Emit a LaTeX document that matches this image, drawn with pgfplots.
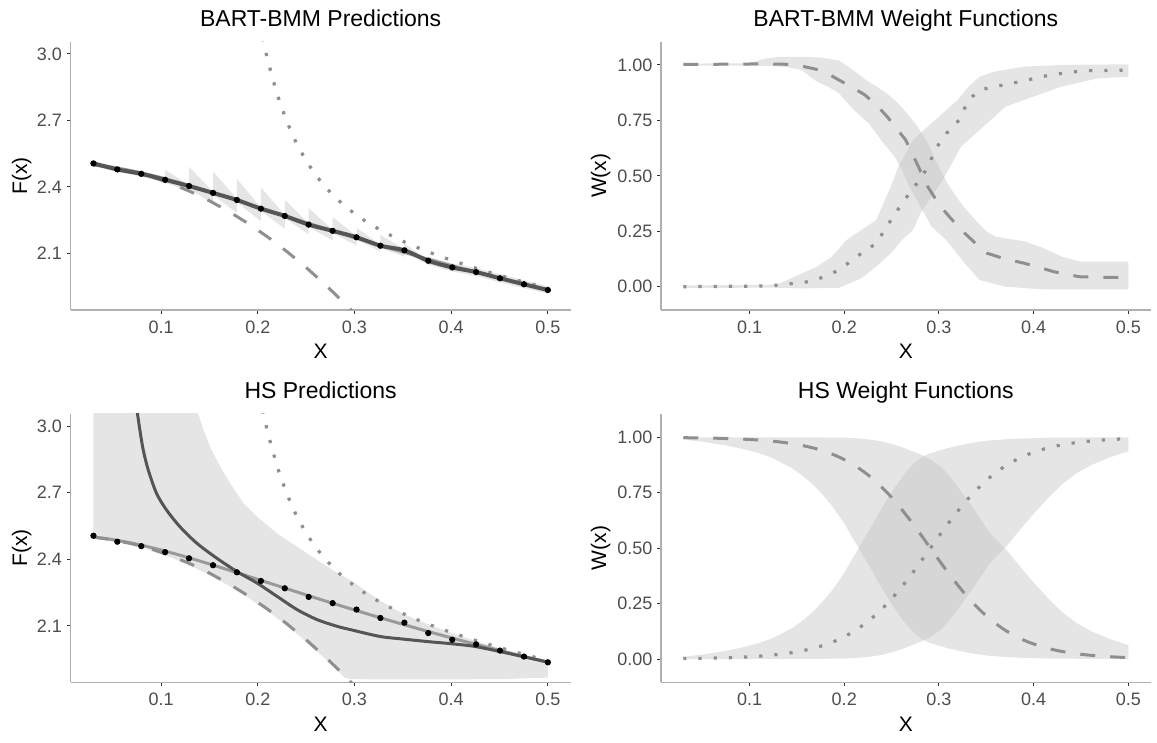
\documentclass[border=0pt]{standalone}
\usepackage{fontspec}
\setmainfont{Liberation Sans}
\usepackage{pgfplots}
\pgfplotsset{compat=1.18}
\definecolor{axgrey}{HTML}{B0B0B0}
\definecolor{tickgrey}{HTML}{333333}
\definecolor{labgrey}{HTML}{4D4D4D}
\definecolor{lgrey}{HTML}{8F8F8F}
\definecolor{truegrey}{HTML}{9A9A9A}
\definecolor{meangrey}{HTML}{555555}
\definecolor{bandc}{HTML}{BFBFBF}
\pgfplotsset{
  every axis title shift=0pt,
  panel/.style={
    scale only axis, height=134.15pt, anchor=south west,
    axis lines*=left, axis line style={axgrey, line width=0.6pt, -},
    tick pos=left, tick align=outside, major tick length=1.85pt,
    tick style={tickgrey, line width=0.5pt},
    xmin=0.0065, xmax=0.5235, xtick={0.1,0.2,0.3,0.4,0.5},
    /pgf/number format/assume math mode=true,
    tick label style={font=\fontsize{9}{10}\selectfont, text=labgrey},
    xticklabel style={/pgf/number format/fixed, /pgf/number format/precision=1, /pgf/number format/fixed zerofill, inner sep=3.3pt},
    label style={font=\fontsize{10.5}{12}\selectfont},
    xlabel={X},
    xlabel style={at={(axis description cs:0.5,-0.1826)}, anchor=base},
    title style={font=\fontsize{11.5}{13}\selectfont, at={(axis description cs:0.5,1.0567)}, anchor=base},
  },
  leftp/.style={
    width=249.95pt, ymin=1.845, ymax=3.055, ytick={2.1,2.4,2.7,3.0},
    yticklabel style={/pgf/number format/fixed, /pgf/number format/precision=1, /pgf/number format/fixed zerofill, inner sep=2.3pt},
    ylabel={F(x)},
    ylabel style={at={(axis description cs:-0.0874,0.5)}, anchor=base},
  },
  rightp/.style={
    width=244.8pt, ymin=-0.105, ymax=1.105, ytick={0,0.25,0.5,0.75,1},
    yticklabel style={/pgf/number format/fixed, /pgf/number format/precision=2, /pgf/number format/fixed zerofill, inner sep=2.3pt},
    ylabel={W(x)},
    ylabel style={at={(axis description cs:-0.1123,0.5)}, anchor=base},
  },
  dashedl/.style={lgrey, line width=1.5pt, dash pattern=on 7.5pt off 7.5pt},
  dottedl/.style={lgrey, line width=1.6pt, dash pattern=on 1.6pt off 6pt},
  band/.style={draw=none, fill=bandc, fill opacity=0.4},
}
\begin{document}
\begin{tikzpicture}
\useasboundingbox (0,0) rectangle (578.5pt,371.5pt);
% ---------------- top left
\begin{axis}[panel, leftp, at={(35.35pt,216.5pt)}, title={BART-BMM Predictions}]
\addplot[band] coordinates {
(0.0300,2.518)(0.0547,2.491)(0.0795,2.471)(0.1042,2.444)(0.1042,2.476)(0.1289,2.409)(0.1289,2.491)(0.1537,2.378)(0.1537,2.470)(0.1784,2.346)(0.1784,2.436)(0.2032,2.307)(0.2032,2.398)(0.2279,2.274)(0.2279,2.342)(0.2526,2.235)(0.2526,2.304)(0.2774,2.207)(0.2774,2.264)(0.3021,2.178)(0.3021,2.216)(0.3268,2.140)(0.3268,2.184)(0.3516,2.119)(0.3516,2.144)(0.3763,2.072)(0.3763,2.085)(0.4011,2.055)(0.4258,2.034)(0.4505,2.006)(0.4753,1.979)(0.5000,1.951)
(0.5000,1.919)(0.4753,1.943)(0.4505,1.970)(0.4258,1.998)(0.4011,2.019)(0.3763,2.049)(0.3516,2.104)(0.3516,2.085)(0.3268,2.125)(0.3268,2.109)(0.3021,2.163)(0.3021,2.136)(0.2774,2.192)(0.2774,2.158)(0.2526,2.220)(0.2526,2.186)(0.2279,2.259)(0.2279,2.211)(0.2032,2.292)(0.2032,2.245)(0.1784,2.331)(0.1784,2.283)(0.1537,2.363)(0.1537,2.321)(0.1289,2.394)(0.1289,2.378)(0.1042,2.420)(0.0795,2.447)(0.0547,2.467)(0.0300,2.494)
} -- cycle;
\addplot[truegrey, line width=1.5pt, smooth] coordinates {
(0.03,2.49996)(0.05,2.48859)(0.075,2.46788)(0.10,2.44158)(0.125,2.41134)(0.15,2.37853)(0.175,2.34422)(0.20,2.30919)(0.225,2.27402)(0.25,2.23909)(0.275,2.20475)(0.30,2.17110)(0.325,2.13829)(0.35,2.10642)(0.375,2.07551)(0.40,2.04553)(0.425,2.01656)(0.45,1.98853)(0.475,1.96144)(0.50,1.93524)};
\addplot[dashedl] coordinates {
(0.03,2.49986)(0.05,2.48783)(0.07,2.46978)(0.09,2.44572)(0.11,2.41564)(0.13,2.37954)(0.15,2.33743)(0.17,2.28930)(0.19,2.23516)(0.21,2.17500)(0.23,2.10883)(0.25,2.03664)(0.27,1.95843)(0.29,1.87421)(0.31,1.78397)};
\addplot[dottedl] coordinates {
(0.205,3.0711)(0.21,2.9752)(0.22,2.8173)(0.23,2.6942)(0.24,2.5964)(0.25,2.5175)(0.26,2.4528)(0.27,2.3988)(0.28,2.3531)(0.29,2.3139)(0.30,2.2797)(0.31,2.2495)(0.32,2.2225)(0.33,2.1980)(0.34,2.1757)(0.35,2.1551)(0.36,2.1360)(0.37,2.1180)(0.38,2.1011)(0.39,2.0851)(0.40,2.0698)(0.42,2.0410)(0.44,2.0143)(0.46,1.9892)(0.48,1.9654)(0.50,1.9427)};
\addplot[meangrey, line width=2pt, smooth] coordinates {
(0.0300,2.506)(0.0547,2.479)(0.0795,2.459)(0.1042,2.432)(0.1289,2.404)(0.1537,2.373)(0.1784,2.341)(0.2032,2.302)(0.2279,2.269)(0.2526,2.230)(0.2774,2.202)(0.3021,2.173)(0.3268,2.135)(0.3516,2.114)(0.3763,2.067)(0.4011,2.037)(0.4258,2.016)(0.4505,1.988)(0.4753,1.961)(0.5000,1.935)};
\addplot[only marks, mark=*, mark size=1.35pt, black] coordinates {
(0.0300,2.506)(0.0547,2.479)(0.0795,2.459)(0.1042,2.432)(0.1289,2.404)(0.1537,2.373)(0.1784,2.341)(0.2032,2.302)(0.2279,2.269)(0.2526,2.230)(0.2774,2.202)(0.3021,2.173)(0.3268,2.135)(0.3516,2.114)(0.3763,2.067)(0.4011,2.037)(0.4258,2.016)(0.4505,1.988)(0.4753,1.961)(0.5000,1.935)};
\end{axis}
% ---------------- top right
\begin{axis}[panel, rightp, at={(330.5pt,216.5pt)}, title={BART-BMM Weight Functions}]
\addplot[band] coordinates {
(0.030,1.006)(0.100,1.008)(0.115,1.028)(0.130,1.036)(0.160,1.037)(0.175,1.033)(0.1945,1.020)(0.210,0.975)(0.2218,0.935)(0.235,0.900)(0.2453,0.870)(0.255,0.835)(0.2648,0.789)(0.2766,0.727)(0.2882,0.650)(0.296,0.575)(0.3078,0.475)(0.3175,0.410)(0.3273,0.354)(0.340,0.294)(0.3508,0.247)(0.360,0.225)(0.390,0.205)(0.410,0.175)(0.430,0.135)(0.450,0.113)(0.500,0.113)
(0.500,-0.012)(0.4094,-0.012)(0.3703,0.000)(0.343,0.030)(0.3273,0.105)(0.3078,0.210)(0.2922,0.271)(0.2805,0.361)(0.2688,0.451)(0.2609,0.526)(0.2531,0.587)(0.2414,0.647)(0.2336,0.692)(0.2258,0.737)(0.210,0.797)(0.1945,0.872)(0.183,0.902)(0.171,0.925)(0.155,0.977)(0.140,0.990)(0.120,0.996)(0.030,0.998)
} -- cycle;
\addplot[band] coordinates {
(0.030,0.006)(0.120,0.008)(0.132,0.015)(0.155,0.060)(0.171,0.090)(0.1867,0.135)(0.2024,0.210)(0.2179,0.256)(0.2336,0.300)(0.2414,0.376)(0.2492,0.451)(0.257,0.541)(0.2648,0.600)(0.2727,0.662)(0.2843,0.707)(0.2961,0.752)(0.3078,0.797)(0.3196,0.842)(0.3312,0.902)(0.343,0.947)(0.3586,0.970)(0.3899,0.9925)(0.429,1.000)(0.500,1.003)
(0.500,0.947)(0.468,0.940)(0.429,0.902)(0.4094,0.872)(0.3899,0.842)(0.3703,0.812)(0.3508,0.737)(0.3352,0.677)(0.3234,0.632)(0.3117,0.541)(0.3039,0.481)(0.2922,0.406)(0.2805,0.331)(0.2727,0.256)(0.2609,0.210)(0.2492,0.150)(0.2336,0.090)(0.2179,0.0376)(0.1945,-0.005)(0.155,-0.0075)(0.120,-0.004)(0.030,-0.006)
} -- cycle;
\addplot[dashedl] coordinates {
(0.03,1.003)(0.06,1.003)(0.09,1.004)(0.1164,1.005)(0.14,1.003)(0.155,0.995)(0.171,0.980)(0.185,0.955)(0.1945,0.932)(0.21,0.895)(0.2218,0.865)(0.235,0.815)(0.2453,0.767)(0.255,0.715)(0.2648,0.662)(0.2766,0.557)(0.2882,0.451)(0.298,0.385)(0.3078,0.331)(0.3175,0.285)(0.3273,0.241)(0.34,0.19)(0.3508,0.151)(0.37,0.125)(0.3899,0.106)(0.405,0.088)(0.4211,0.068)(0.435,0.055)(0.4485,0.045)(0.47,0.042)(0.5,0.042)};
\addplot[dottedl] coordinates {
(0.03,0.0)(0.1164,0.003)(0.132,0.008)(0.1633,0.023)(0.179,0.045)(0.1945,0.075)(0.2179,0.150)(0.2336,0.195)(0.2492,0.300)(0.2609,0.375)(0.2766,0.465)(0.2863,0.526)(0.298,0.631)(0.3078,0.691)(0.3214,0.752)(0.3312,0.842)(0.343,0.887)(0.3586,0.902)(0.386,0.925)(0.4172,0.955)(0.4524,0.974)(0.5,0.977)};
\end{axis}
% ---------------- bottom left
\begin{axis}[panel, leftp, at={(35.35pt,30.35pt)}, title={HS Predictions}]
\addplot[band] coordinates {
(0.0300,3.200)(0.1335,3.120)(0.1387,3.052)(0.1439,2.981)(0.1508,2.906)(0.1612,2.816)(0.1716,2.741)(0.1855,2.651)(0.1994,2.591)(0.2201,2.516)(0.2409,2.456)(0.2617,2.396)(0.2824,2.337)(0.2963,2.305)(0.3100,2.262)(0.3200,2.232)(0.3300,2.204)(0.3400,2.178)(0.3500,2.155)(0.3600,2.135)(0.3800,2.100)(0.4000,2.068)(0.4200,2.039)(0.4400,2.012)(0.4600,1.987)(0.4800,1.964)(0.5000,1.946)
(0.5000,1.866)(0.4800,1.864)(0.4600,1.860)(0.4000,1.858)(0.3200,1.858)(0.2950,1.860)(0.2900,1.866)(0.2700,1.950)(0.2500,2.029)(0.2300,2.101)(0.2100,2.167)(0.1900,2.227)(0.1700,2.281)(0.1500,2.329)(0.1300,2.371)(0.1100,2.408)(0.1000,2.428)(0.0800,2.452)(0.0550,2.475)(0.0300,2.494)
} -- cycle;
\addplot[truegrey, line width=1.5pt, smooth] coordinates {
(0.03,2.49996)(0.05,2.48859)(0.075,2.46788)(0.10,2.44158)(0.125,2.41134)(0.15,2.37853)(0.175,2.34422)(0.20,2.30919)(0.225,2.27402)(0.25,2.23909)(0.275,2.20475)(0.30,2.17110)(0.325,2.13829)(0.35,2.10642)(0.375,2.07551)(0.40,2.04553)(0.425,2.01656)(0.45,1.98853)(0.475,1.96144)(0.50,1.93524)};
\addplot[dashedl] coordinates {
(0.03,2.49986)(0.05,2.48783)(0.07,2.46978)(0.09,2.44572)(0.11,2.41564)(0.13,2.37954)(0.15,2.33743)(0.17,2.28930)(0.19,2.23516)(0.21,2.17500)(0.23,2.10883)(0.25,2.03664)(0.27,1.95843)(0.29,1.87421)(0.31,1.78397)};
\addplot[dottedl] coordinates {
(0.205,3.0711)(0.21,2.9752)(0.22,2.8173)(0.23,2.6942)(0.24,2.5964)(0.25,2.5175)(0.26,2.4528)(0.27,2.3988)(0.28,2.3531)(0.29,2.3139)(0.30,2.2797)(0.31,2.2495)(0.32,2.2225)(0.33,2.1980)(0.34,2.1757)(0.35,2.1551)(0.36,2.1360)(0.37,2.1180)(0.38,2.1011)(0.39,2.0851)(0.40,2.0698)(0.42,2.0410)(0.44,2.0143)(0.46,1.9892)(0.48,1.9654)(0.50,1.9427)};
\addplot[meangrey, line width=1.5pt, smooth] coordinates {
(0.0725,3.150)(0.0757,3.052)(0.0781,2.981)(0.0816,2.891)(0.0868,2.801)(0.0954,2.696)(0.1058,2.621)(0.1196,2.546)(0.1370,2.472)(0.1578,2.404)(0.1786,2.344)(0.1994,2.292)(0.2201,2.232)(0.2409,2.172)(0.2617,2.127)(0.2824,2.097)(0.2963,2.082)(0.3260,2.052)(0.3500,2.040)(0.3770,2.028)(0.4000,2.019)(0.4240,2.007)(0.4490,1.985)(0.4730,1.962)(0.5000,1.936)};
\addplot[only marks, mark=*, mark size=1.35pt, black] coordinates {
(0.0300,2.506)(0.0547,2.479)(0.0795,2.459)(0.1042,2.432)(0.1289,2.404)(0.1537,2.373)(0.1784,2.341)(0.2032,2.302)(0.2279,2.269)(0.2526,2.230)(0.2774,2.202)(0.3021,2.173)(0.3268,2.135)(0.3516,2.114)(0.3763,2.067)(0.4011,2.037)(0.4258,2.016)(0.4505,1.988)(0.4753,1.961)(0.5000,1.935)};
\end{axis}
% ---------------- bottom right
\begin{axis}[panel, rightp, at={(330.5pt,30.35pt)}, title={HS Weight Functions}]
\addplot[band] coordinates {
(0.03,1.000)(0.10,1.000)(0.15,0.999)(0.18,0.999)(0.20,0.998)(0.215,0.995)(0.23,0.988)(0.24,0.981)(0.25,0.970)(0.26,0.957)(0.27,0.940)(0.2836,0.917)(0.293,0.895)(0.3028,0.865)(0.311,0.825)(0.3204,0.774)(0.329,0.722)(0.338,0.669)(0.345,0.625)(0.3519,0.579)(0.362,0.532)(0.372,0.488)(0.385,0.420)(0.40,0.345)(0.415,0.275)(0.43,0.212)(0.445,0.163)(0.46,0.127)(0.48,0.091)(0.50,0.063)
(0.50,0.000)(0.45,0.001)(0.42,0.002)(0.39,0.005)(0.37,0.009)(0.3519,0.015)(0.335,0.025)(0.3204,0.038)(0.31,0.048)(0.30,0.060)(0.29,0.074)(0.2836,0.086)(0.2775,0.104)(0.2713,0.128)(0.264,0.163)(0.2573,0.203)(0.25,0.248)(0.2434,0.293)(0.236,0.345)(0.2293,0.398)(0.222,0.450)(0.2153,0.500)(0.208,0.552)(0.2013,0.602)(0.195,0.643)(0.1872,0.690)(0.18,0.727)(0.1698,0.775)(0.158,0.820)(0.1452,0.860)(0.125,0.905)(0.1102,0.928)(0.09,0.950)(0.0752,0.963)(0.05,0.980)(0.03,0.990)
} -- cycle;
\addplot[band] coordinates {
(0.03,0.010)(0.05,0.020)(0.0752,0.037)(0.09,0.050)(0.1102,0.072)(0.125,0.095)(0.1452,0.140)(0.158,0.180)(0.1698,0.225)(0.18,0.273)(0.1872,0.310)(0.195,0.357)(0.2013,0.398)(0.208,0.448)(0.2153,0.500)(0.222,0.550)(0.2293,0.602)(0.236,0.655)(0.2434,0.707)(0.25,0.752)(0.2573,0.797)(0.264,0.837)(0.2713,0.872)(0.2775,0.896)(0.2836,0.914)(0.29,0.926)(0.30,0.940)(0.31,0.952)(0.3204,0.962)(0.335,0.975)(0.3519,0.985)(0.37,0.991)(0.39,0.995)(0.42,0.998)(0.45,0.999)(0.50,1.000)
(0.50,0.937)(0.48,0.909)(0.46,0.873)(0.445,0.837)(0.43,0.788)(0.415,0.725)(0.40,0.655)(0.385,0.580)(0.372,0.512)(0.362,0.468)(0.3519,0.421)(0.345,0.375)(0.338,0.331)(0.329,0.278)(0.3204,0.226)(0.311,0.175)(0.3028,0.135)(0.293,0.105)(0.2836,0.083)(0.27,0.060)(0.26,0.043)(0.25,0.030)(0.24,0.019)(0.23,0.012)(0.215,0.005)(0.20,0.002)(0.18,0.001)(0.15,0.001)(0.10,0.000)(0.03,0.000)
} -- cycle;
\addplot[dashedl, smooth] coordinates {
(0.03,0.99814)(0.05,0.99700)(0.07,0.99515)(0.09,0.99218)(0.11,0.98740)(0.13,0.97977)(0.15,0.96763)(0.17,0.94863)(0.19,0.91936)(0.21,0.87568)(0.23,0.81306)(0.25,0.72869)(0.27,0.62386)(0.29,0.50602)(0.31,0.38750)(0.33,0.28094)(0.35,0.19439)(0.37,0.12969)(0.39,0.08428)(0.41,0.05378)(0.43,0.03391)(0.45,0.02122)(0.47,0.01321)(0.49,0.00820)(0.50,0.00646)};
\addplot[dottedl, smooth] coordinates {
(0.03,0.00186)(0.05,0.00300)(0.07,0.00485)(0.09,0.00782)(0.11,0.01260)(0.13,0.02023)(0.15,0.03237)(0.17,0.05137)(0.19,0.08064)(0.21,0.12432)(0.23,0.18694)(0.25,0.27131)(0.27,0.37614)(0.29,0.49398)(0.31,0.61250)(0.33,0.71906)(0.35,0.80561)(0.37,0.87031)(0.39,0.91572)(0.41,0.94622)(0.43,0.96609)(0.45,0.97878)(0.47,0.98679)(0.49,0.99180)(0.50,0.99354)};
\end{axis}
\end{tikzpicture}
\end{document}
